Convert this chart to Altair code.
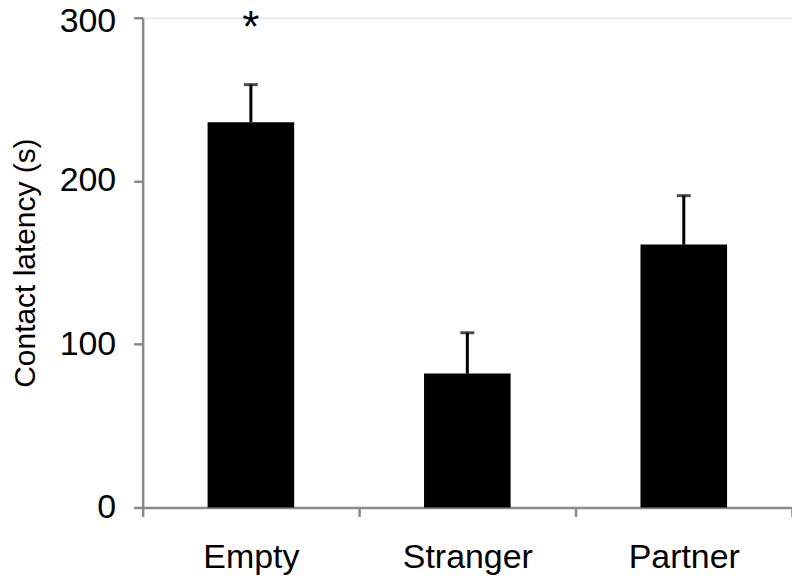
import altair as alt
import pandas as pd

categories = ["Empty", "Stranger", "Partner"]
means = [236, 82, 161]
err_upper = [259, 107, 191]
sig = ["*", "", ""]
sig_y = [291, None, None]

df = pd.DataFrame({"cat": categories, "mean": means, "err": err_upper, "sig": sig, "sig_y": sig_y})

FONT = "Liberation Sans"
AXIS_GRAY = "#8a8a8a"

x_enc = alt.X("cat:N", sort=categories,
              scale=alt.Scale(paddingInner=0, paddingOuter=0),
              axis=alt.Axis(title=None, labelAngle=0, labelFontSize=34, labelFont=FONT,
                            labelColor="black", labelPadding=24, tickBand="extent",
                            domainColor=AXIS_GRAY, tickColor=AXIS_GRAY, domainWidth=2.5,
                            tickWidth=2.5, tickSize=9))
y_scale = alt.Scale(domain=[0, 300], nice=False)

bars = alt.Chart(df).mark_bar(color="black", width=alt.RelativeBandSize(0.4)).encode(
    x=x_enc,
    y=alt.Y("mean:Q", scale=y_scale,
            axis=alt.Axis(title="Contact latency (s)", titleFontSize=30, titleFont=FONT,
                          titleFontWeight="normal", titleColor="black", titlePadding=19,
                          values=[0, 100, 200, 300], labelFontSize=34, labelFont=FONT,
                          labelColor="black", labelPadding=18, grid=False,
                          labelOffset={"condition": {"test": "datum.value == 300", "value": 4}, "value": 0},
                          domainColor=AXIS_GRAY, tickColor=AXIS_GRAY, domainWidth=2.5,
                          tickWidth=2.5, tickSize=9)),
)

err_line = alt.Chart(df).mark_rule(color="black", strokeWidth=3).encode(
    x=alt.X("cat:N", sort=categories), y="mean:Q", y2="err:Q")

err_cap = alt.Chart(df).mark_tick(color="black", orient="horizontal", size=14, thickness=3).encode(
    x=alt.X("cat:N", sort=categories), y="err:Q")

stars = alt.Chart(df).transform_filter("datum.sig != ''").mark_text(
    fontSize=44, font=FONT, color="black", baseline="middle", dy=-3).encode(
    x=alt.X("cat:N", sort=categories), y="sig_y:Q", text="sig:N")

chart = alt.layer(bars, err_line, err_cap, stars).properties(
    width=651, height=491,
    autosize=alt.AutoSizeParams(type="none"),
    padding={"left": 135, "top": 9, "right": 0, "bottom": 70},
).configure_view(stroke=None).configure(background="white")

chart.save("out.html", embed_options={"renderer": "svg", "actions": False})
